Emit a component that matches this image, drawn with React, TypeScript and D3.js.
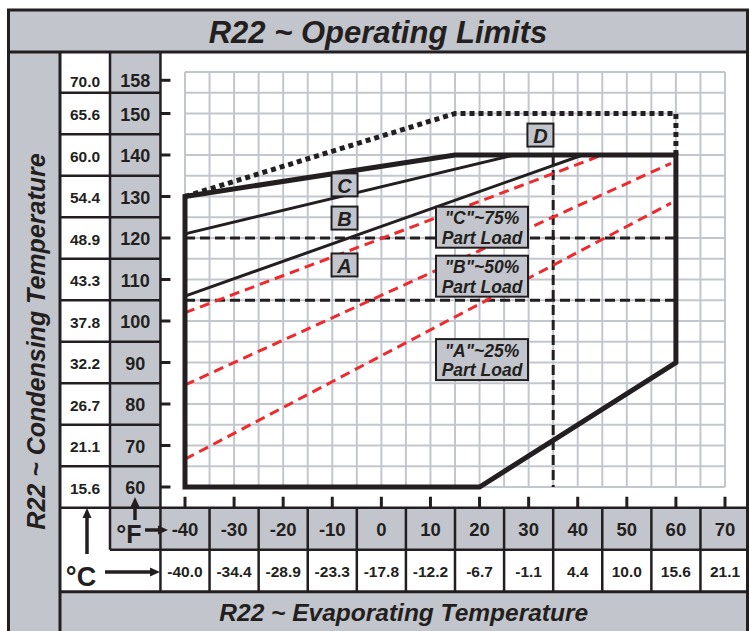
import React from "react";
import * as d3 from "d3";

// evaporating temperature (x)
const evapF = [-40, -30, -20, -10, 0, 10, 20, 30, 40, 50, 60, 70];
const evapC = ["-40.0", "-34.4", "-28.9", "-23.3", "-17.8", "-12.2", "-6.7", "-1.1", "4.4", "10.0", "15.6", "21.1"];
// condensing temperature (y)
const condF = [60, 70, 80, 90, 100, 110, 120, 130, 140, 150, 158];
const condC = ["15.6", "21.1", "26.7", "32.2", "37.8", "43.3", "48.9", "54.4", "60.0", "65.6", "70.0"];

// [evap °F, cond °F]
const envelope: [number, number][] = [[-40, 60], [-40, 130], [15, 140], [60, 140], [60, 90], [20, 60], [-40, 60]];
const limitD: [number, number][] = [[-40, 130], [15, 150], [60, 150], [60, 140]];
const lineC: [number, number][] = [[-40, 121], [27, 140]];
const lineB: [number, number][] = [[-40, 106], [41, 140]];
const redLines: [number, number][][] = [
  [[-40, 102], [45, 140]],
  [[-40, 84.6], [59, 138]],
  [[-40, 66.7], [59, 128.4]],
];
const dashLevels = [120, 105];
const dashEvap = 35;

const letterLabels = [
  { text: "C", x: -7.5, y: 132.8 },
  { text: "B", x: -7.5, y: 124.8 },
  { text: "A", x: -7.5, y: 113.5 },
  { text: "D", x: 32.4, y: 144.8 },
];
const loadLabels = [
  { l1: "\"C\"~75%", l2: "Part Load", x: 20.5, y: 122.6 },
  { l1: "\"B\"~50%", l2: "Part Load", x: 20.5, y: 110.8 },
  { l1: "\"A\"~25%", l2: "Part Load", x: 20.5, y: 90.7 },
];

const W = 749, H = 631;
const GRAY = "#c2c5cb";
const INK = "#231f20";
const FONT = "'Liberation Sans', Arial, Helvetica, sans-serif";

export default function App() {
  const x = d3.scaleLinear().domain([-40, 70]).range([185, 725]);
  const y = d3.scaleLinear().domain([60, 160]).range([487, 72]);
  const line = d3.line<[number, number]>().x((d) => x(d[0])).y((d) => y(d[1]));

  const cellW = x(10) - x(0);
  const rowH = y(60) - y(70);
  const L = 8.5, R = 747.5, T = 10, TB = 52;
  const c1 = 60, c2 = 110, c3 = x(-40) - cellW / 2;
  const r0 = y(60) + rowH / 2, r1 = r0 + 42, r2 = r1 + 42;

  const gridX = d3.range(-40, 70.1, 5);
  const gridY = d3.range(60, 160.1, 5);

  return (
    <svg width={W} height={H} style={{ position: "absolute", left: 0, top: 0 }} fontFamily={FONT}>
      <rect x={0} y={0} width={W} height={H} fill="#fff" />
      {/* gray bands */}
      <rect x={L} y={T} width={R - L} height={TB - T} fill={GRAY} />
      <rect x={L} y={TB} width={c1 - L} height={H - TB} fill={GRAY} />
      <rect x={c2} y={TB} width={c3 - c2} height={r1 - TB} fill={GRAY} />
      <rect x={c3} y={r0} width={R - c3} height={r1 - r0} fill={GRAY} />
      <rect x={c1} y={r2} width={R - c1} height={H - r2} fill={GRAY} />

      {/* grid */}
      <g stroke="#c3c7cd" strokeWidth={2}>
        {gridX.map((v) => (
          <line key={"gx" + v} x1={x(v)} x2={x(v)} y1={y(60)} y2={y(160)} />
        ))}
        {gridY.map((v) => (
          <line key={"gy" + v} x1={x(-40)} x2={x(70)} y1={y(v)} y2={y(v)} />
        ))}
      </g>

      {/* part load limits */}
      <g stroke={INK} strokeWidth={3} strokeDasharray="10 5" fill="none">
        {dashLevels.map((v) => (
          <line key={"dl" + v} x1={x(-40)} x2={x(60)} y1={y(v)} y2={y(v)} />
        ))}
        <line x1={x(dashEvap)} x2={x(dashEvap)} y1={y(140)} y2={y(60)} />
      </g>
      <g stroke="#ee2a2f" strokeWidth={3} strokeDasharray="10 6" fill="none">
        {redLines.map((d, i) => (
          <path key={"r" + i} d={line(d) || ""} />
        ))}
      </g>
      <path d={line(lineC) || ""} stroke={INK} strokeWidth={3} fill="none" />
      <path d={line(lineB) || ""} stroke={INK} strokeWidth={3} fill="none" />
      <path d={line(limitD) || ""} stroke={INK} strokeWidth={5} strokeDasharray="5 4" fill="none" />
      <path d={(line(envelope) || "") + "Z"} stroke={INK} strokeWidth={5} fill="none" strokeLinejoin="miter" />

      {/* labels */}
      {letterLabels.map((d) => (
        <g key={d.text} transform={`translate(${x(d.x)},${y(d.y)})`}>
          <rect x={-13} y={-11.5} width={26} height={23} fill={GRAY} stroke={INK} strokeWidth={2} />
          <text textAnchor="middle" dominantBaseline="central" y={1} fontSize={20} fontWeight="bold" fontStyle="italic" fill={INK}>
            {d.text}
          </text>
        </g>
      ))}
      {loadLabels.map((d) => (
        <g key={d.l1} transform={`translate(${x(d.x)},${y(d.y)})`}>
          <rect x={-46} y={-20.5} width={92} height={41} fill={GRAY} stroke={INK} strokeWidth={2} />
          <text textAnchor="middle" dominantBaseline="central" y={-9} fontSize={17.5} fontWeight="bold" fontStyle="italic" fill={INK}>
            {d.l1}
          </text>
          <text textAnchor="middle" dominantBaseline="central" y={10.5} fontSize={17.5} fontWeight="bold" fontStyle="italic" fill={INK}>
            {d.l2}
          </text>
        </g>
      ))}

      {/* ticks */}
      <g stroke={INK} strokeWidth={3}>
        {condF.map((v) => (
          <line key={"ty" + v} x1={c3} x2={c3 + 10} y1={y(v)} y2={y(v)} />
        ))}
        {evapF.map((v) => (
          <line key={"tx" + v} x1={x(v)} x2={x(v)} y1={r0 - 11} y2={r0} />
        ))}
      </g>

      {/* table lines */}
      <g stroke={INK} strokeWidth={2.5} fill="none">
        <rect x={L} y={T} width={R - L} height={H + 20} strokeWidth={3} />
        <line x1={L} x2={R} y1={TB} y2={TB} strokeWidth={3} />
        <line x1={c1} x2={c1} y1={TB} y2={H} strokeWidth={3} />
        <line x1={c2} x2={c2} y1={TB} y2={r1} />
        <line x1={c3} x2={c3} y1={TB} y2={r2} />
        {condF.slice(0, -1).map((v) => (
          <line key={"rb" + v} x1={c1} x2={c3} y1={y(v) - rowH / 2} y2={y(v) - rowH / 2} />
        ))}
        <line x1={c1} x2={R} y1={r0} y2={r0} />
        <line x1={c2} x2={R} y1={r1} y2={r1} />
        <line x1={c1} x2={R} y1={r2} y2={r2} strokeWidth={3} />
        {evapF.slice(0, -1).map((v) => (
          <line key={"cb" + v} x1={x(v) + cellW / 2} x2={x(v) + cellW / 2} y1={r0} y2={r2} />
        ))}
      </g>

      {/* table text */}
      <g fontWeight="bold" fill={INK} textAnchor="middle" dominantBaseline="central">
        {condF.map((v, i) => (
          <g key={"yl" + v}>
            <text x={(c2 + c3) / 2} y={y(v) + 1} fontSize={18}>{v}</text>
            <text x={(c1 + c2) / 2} y={y(v) + 1} fontSize={15.5}>{condC[i]}</text>
          </g>
        ))}
        {evapF.map((v, i) => (
          <g key={"xl" + v}>
            <text x={x(v)} y={(r0 + r1) / 2 + 1} fontSize={18.5}>{v}</text>
            <text x={x(v)} y={(r1 + r2) / 2 + 1} fontSize={15.5}>{evapC[i]}</text>
          </g>
        ))}
        <text x={129} y={534} fontSize={25}>°F</text>
        <text x={81} y={577} fontSize={27}>°C</text>
      </g>

      {/* arrows */}
      <g stroke={INK} strokeWidth={3.5} fill={INK}>
        <line x1={135} x2={135} y1={520} y2={505} />
        <path d="M135,497 L130.5,507 L139.5,507 Z" stroke="none" />
        <line x1={145} x2={160} y1={530} y2={530} />
        <path d="M168,530 L158,525.5 L158,534.5 Z" stroke="none" />
        <line x1={87} x2={87} y1={554} y2={516} />
        <path d="M87,508 L82.5,518 L91.5,518 Z" stroke="none" />
        <line x1={105} x2={152} y1={572} y2={572} />
        <path d="M160,572 L150,567.5 L150,576.5 Z" stroke="none" />
      </g>

      {/* titles */}
      <text x={(L + R) / 2} y={(T + TB) / 2 + 1} textAnchor="middle" dominantBaseline="central" fontSize={31} fontWeight="bold" fontStyle="italic" fill={INK}>
        R22 ~ Operating Limits
      </text>
      <text x={(c1 + R) / 2} y={(r2 + H) / 2 + 1} textAnchor="middle" dominantBaseline="central" fontSize={24.5} fontWeight="bold" fontStyle="italic" fill={INK}>
        R22 ~ Evaporating Temperature
      </text>
      <text transform={`translate(${(L + c1) / 2 + 2},${(TB + H) / 2}) rotate(-90)`} textAnchor="middle" dominantBaseline="central" fontSize={25} fontWeight="bold" fontStyle="italic" fill={INK}>
        R22 ~ Condensing Temperature
      </text>
    </svg>
  );
}
